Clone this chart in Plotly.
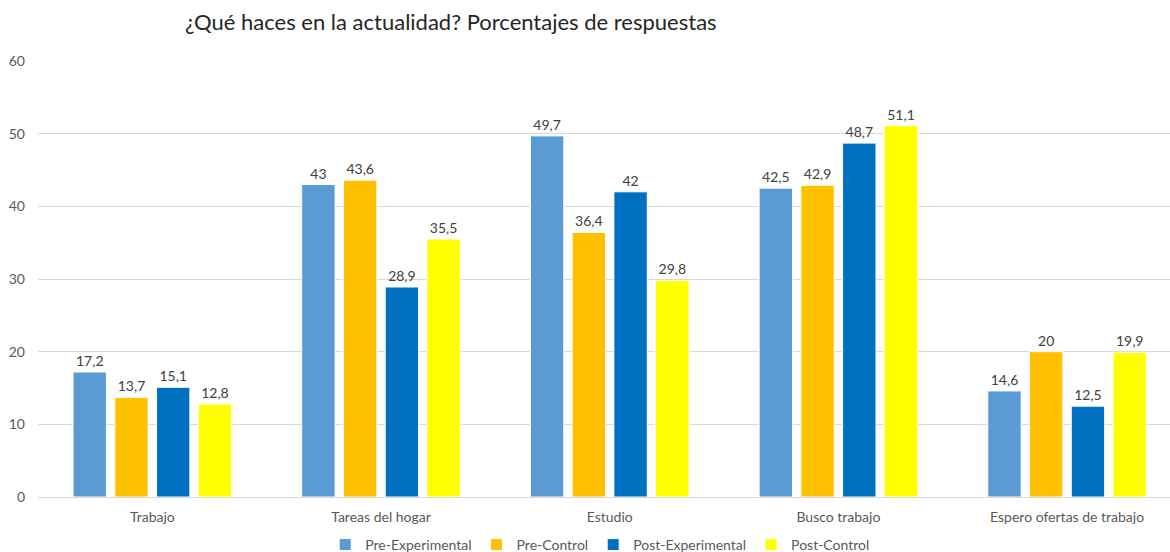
import plotly.graph_objects as go

categories = ["Trabajo", "Tareas del hogar", "Estudio", "Busco trabajo", "Espero ofertas de trabajo"]
pre_experimental = [17.2, 43, 49.7, 42.5, 14.6]
pre_control = [13.7, 43.6, 36.4, 42.9, 20]
post_experimental = [15.1, 28.9, 42, 48.7, 12.5]
post_control = [12.8, 35.5, 29.8, 51.1, 19.9]

series = [
    ("Pre-Experimental", pre_experimental, "#5B9BD5"),
    ("Pre-Control", pre_control, "#FFC000"),
    ("Post-Experimental", post_experimental, "#0070C0"),
    ("Post-Control", post_control, "#FFFF00"),
]


def label(v):
    return f"{v:g}".replace(".", ",")


fig = go.Figure()
for name, values, color in series:
    fig.add_trace(go.Bar(
        name=name,
        x=categories,
        y=values,
        marker=dict(color=color, line=dict(color="white", width=1)),
        text=[label(v) for v in values],
        textposition="outside",
        textfont=dict(family="Lato", size=14, color="#404040"),
        cliponaxis=False,
    ))

fig.update_layout(
    width=1170,
    height=552,
    margin=dict(l=38, r=0, t=61, b=55, autoexpand=False),
    paper_bgcolor="white",
    plot_bgcolor="white",
    font=dict(family="Lato", size=14, color="#595959"),
    barmode="group",
    bargap=0.27,
    bargroupgap=0.2,
    title=dict(
        text="¿Qué haces en la actualidad? Porcentajes de respuestas",
        font=dict(family="Lato", size=22, color="#262626"),
        xref="container", yref="container",
        x=185 / 1170, xanchor="left",
        y=1 - 22 / 552, yanchor="middle",
    ),
    legend=dict(
        orientation="h",
        xref="container", yref="container",
        x=0.513, xanchor="center",
        y=1 - 545 / 552, yanchor="middle",
        font=dict(family="Lato", size=14, color="#595959"),
        itemwidth=30,
    ),
    showlegend=True,
)

fig.update_xaxes(
    range=[-0.5, 4.45],
    showgrid=False,
    showline=False,
    ticks="",
    ticklabelstandoff=10,
    automargin=False,
    tickfont=dict(family="Lato", size=14, color="#595959"),
)
fig.update_yaxes(
    range=[0, 60],
    dtick=10,
    showgrid=True,
    gridcolor="#D9D9D9",
    gridwidth=1,
    zeroline=True,
    zerolinecolor="#D9D9D9",
    zerolinewidth=1,
    showline=False,
    ticks="",
    ticklabelstandoff=12,
    automargin=False,
    tickfont=dict(family="Lato", size=14, color="#595959"),
)

fig.write_html("out.html")
